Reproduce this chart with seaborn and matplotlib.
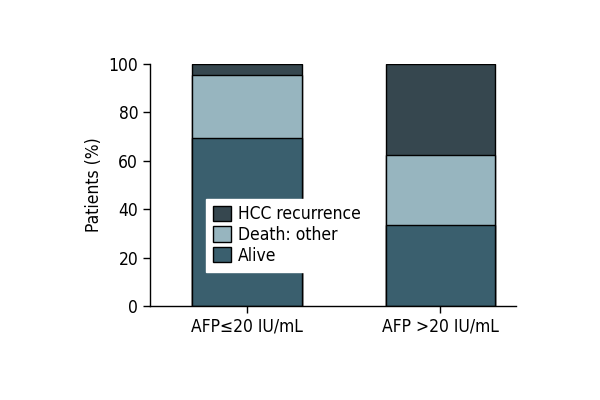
import matplotlib
matplotlib.use("Agg")
import matplotlib.pyplot as plt
import matplotlib.patches as mpatches
import pandas as pd
import seaborn as sns

# Data
groups = ["AFP\u226420 IU/mL", "AFP >20 IU/mL"]
alive = [69.3, 33.5]
death_other = [26.0, 28.8]
hcc_recurrence = [4.7, 37.7]

colors = {"HCC recurrence": "#36474f", "Death: other": "#97b5bf", "Alive": "#3a5f6e"}

sns.set_style("ticks")
plt.rcParams["font.family"] = ["DejaVu Sans"]
plt.rcParams["font.stretch"] = "condensed"
plt.rcParams["text.color"] = "black"
plt.rcParams["axes.labelcolor"] = "black"
plt.rcParams["xtick.color"] = "black"
plt.rcParams["ytick.color"] = "black"

df = pd.DataFrame({"group": groups, "alive": alive,
                   "death": death_other, "hcc": hcc_recurrence})
df["top_death"] = df["alive"] + df["death"]
df["top_hcc"] = df["top_death"] + df["hcc"]

fig = plt.figure(figsize=(6, 4), dpi=100)
ax = fig.add_axes([0.25, 0.235, 0.61, 0.605])

# stacked bars by overlaying cumulative totals
sns.barplot(data=df, x="group", y="top_hcc", color=colors["HCC recurrence"],
            width=0.565, edgecolor="black", linewidth=1, saturation=1, ax=ax)
sns.barplot(data=df, x="group", y="top_death", color=colors["Death: other"],
            width=0.565, edgecolor="black", linewidth=1, saturation=1, ax=ax)
sns.barplot(data=df, x="group", y="alive", color=colors["Alive"],
            width=0.565, edgecolor="black", linewidth=1, saturation=1, ax=ax)

ax.set_ylim(0, 100)
ax.set_xlim(-0.5, 1.39)
ax.set_yticks([0, 20, 40, 60, 80, 100])
ax.set_xlabel("")
ax.set_ylabel("Patients (%)", fontsize=12.5)
ax.tick_params(labelsize=12.5, length=5, width=1, color="black")
for s in ["left", "bottom"]:
    ax.spines[s].set_linewidth(1)
    ax.spines[s].set_color("black")
sns.despine(ax=ax)

handles = [mpatches.Patch(facecolor=c, edgecolor="black", label=l)
           for l, c in colors.items()]
leg = ax.legend(handles=handles, loc="upper left", bbox_to_anchor=(0.13, 0.48),
                frameon=True, fancybox=False, fontsize=12.5, handlelength=1.0,
                handleheight=1.0, handletextpad=0.4, labelspacing=0.15,
                borderpad=0.4)
leg.get_frame().set_edgecolor("white")
leg.get_frame().set_alpha(1)

fig.savefig("out.png", dpi=100)
